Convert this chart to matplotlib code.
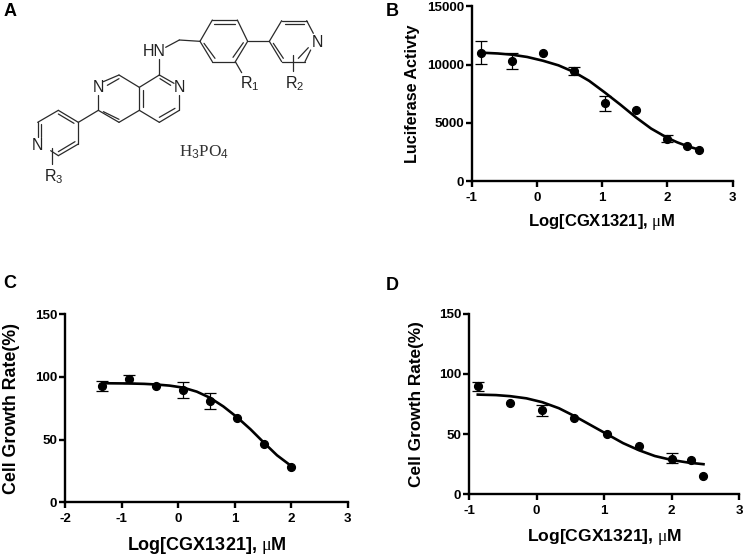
import matplotlib
matplotlib.use("Agg")
import matplotlib.pyplot as plt

plt.rcParams['font.family'] = ['Liberation Sans', 'DejaVu Sans']
plt.rcParams['mathtext.fontset'] = 'custom'
plt.rcParams['mathtext.rm'] = 'Liberation Sans'
plt.rcParams['mathtext.it'] = 'Liberation Serif'
plt.rcParams['mathtext.bf'] = 'Liberation Serif'
plt.rcParams['axes.unicode_minus'] = False

W, H = 744, 555

# panel B
b_x = [-0.86, -0.39, 0.09, 0.57, 1.04, 1.52, 2.0, 2.30, 2.48]
b_y = [11020, 10330, 11020, 9470, 6670, 6070, 3640, 3000, 2690]
b_lo = [10020, 9620, 11020, 9100, 6040, 6070, 3320, 3000, 2690]
b_hi = [12000, 11020, 11020, 9820, 7300, 6070, 3980, 3000, 2690]
b_cx = [-0.86, -0.6, -0.39, -0.15, 0.09, 0.33, 0.57, 0.8, 1.04, 1.28, 1.52, 1.75, 2.0, 2.15, 2.30, 2.48]
b_cy = [11020, 10950, 10850, 10650, 10330, 9930, 9350, 8600, 7600, 6550, 5450, 4500, 3700, 3320, 3000, 2700]

# panel C
c_x = [-1.34, -0.86, -0.39, 0.09, 0.56, 1.04, 1.52, 2.0]
c_y = [92.8, 98.1, 92.8, 89.4, 81.1, 67, 46.8, 28.5]
c_lo = [88.8, 94.9, 92.8, 83, 74.2, 67, 46.8, 28.5]
c_hi = [97.1, 101.9, 92.8, 96, 87.5, 67, 46.8, 28.5]
c_cx = [-1.34, -1.1, -0.86, -0.6, -0.39, -0.15, 0.09, 0.33, 0.56, 0.8, 1.04, 1.28, 1.52, 1.75, 2.0]
c_cy = [95, 94.9, 94.8, 94.5, 94, 93.1, 91.5, 88.3, 83.5, 76.5, 68, 58.3, 47.5, 37.5, 29]

# panel D
d_x = [-0.87, -0.39, 0.085, 0.56, 1.04, 1.52, 2.0, 2.29, 2.47]
d_y = [89.7, 76.1, 70, 63, 49.8, 40.4, 29.6, 28.2, 14.9]
d_lo = [85.8, 76.1, 65, 63, 49.8, 40.4, 26, 28.2, 14.9]
d_hi = [93.5, 76.1, 74.2, 63, 49.8, 40.4, 34.3, 28.2, 14.9]
d_cx = [-0.87, -0.6, -0.39, -0.15, 0.085, 0.33, 0.56, 0.8, 1.04, 1.28, 1.52, 1.75, 2.0, 2.25, 2.47]
d_cy = [82.8, 82.4, 81.5, 79.7, 76.5, 71.5, 65, 57.5, 50, 42.5, 36.5, 31.8, 28.5, 26.3, 25]

xlabel = 'Log[CGX1321], $\\mu$M'
y_b = 'Luciferase Activty'
y_cd = 'Cell Growth Rate(%)'

# molecule segments, in 3x pixels of the picture
bonds = [
    (310, 245, 357, 225), (322, 256, 357, 236), (357, 225, 418, 262), (418, 262, 418, 331),
    (428, 270, 428, 322), (418, 331, 357, 367), (310, 335, 357, 358), (295, 331, 357, 367),
    (295, 331, 295, 285), (418, 262, 478, 225), (478, 225, 522, 250), (480, 236, 512, 256),
    (538, 285, 538, 331), (538, 331, 478, 367), (478, 352, 525, 325), (478, 367, 418, 331),
    (478, 225, 478, 178), (497, 142, 538, 120), (538, 120, 600, 124),
    (600, 124, 637, 60), (637, 60, 712, 60), (712, 60, 743, 124), (743, 124, 706, 185),
    (706, 185, 637, 185), (637, 185, 600, 124), (643, 71, 704, 71), (730, 128, 699, 172),
    (612, 130, 645, 175), (706, 185, 725, 218), (743, 124, 808, 124),
    (808, 124, 845, 62), (845, 62, 920, 62), (920, 62, 940, 100), (932, 150, 915, 185),
    (915, 185, 845, 185), (845, 185, 808, 124), (855, 73, 913, 73), (820, 130, 850, 175),
    (895, 175, 925, 143), (878, 165, 878, 213),
    (295, 331, 235, 367), (235, 367, 175, 331), (175, 331, 113, 367), (113, 367, 113, 412),
    (235, 367, 235, 432), (235, 432, 175, 467), (175, 467, 152, 452), (175, 342, 222, 370),
    (124, 372, 124, 410), (175, 455, 225, 425), (155, 445, 155, 492),
]
atoms = [
    ('N', 295, 263), ('N', 538, 263), ('HN', 462, 156), ('N', 952, 128), ('N', 113, 437),
    ('R$_{1}$', 748, 250), ('R$_{2}$', 884, 250), ('R$_{3}$', 160, 531),
]

fig = plt.figure(figsize=(W / 100, H / 100), dpi=100)


def make_axes(x0, x1, y_top, y_bot):
    return fig.add_axes([x0 / W, 1 - y_bot / H, (x1 - x0) / W, (y_bot - y_top) / H])


def panel(ax, x, y, lo, hi, cx, cy, xt, yt, ylab, xsize, ysize, xlab_y, ylab_x):
    ax.plot(cx, cy, color='black', lw=1.9, zorder=3)
    ax.plot(x, y, 'o', color='black', ms=5.6, zorder=4)
    # only points that have a spread get a bar
    for a, b, c in zip(x, lo, hi):
        if c > b:
            ax.errorbar([a], [(b + c) / 2], yerr=[(c - b) / 2], fmt='none', ecolor='black',
                        elinewidth=0.9, capsize=4.2, capthick=0.9, zorder=4)
    ax.set_xlim(xt[0], xt[-1])
    ax.set_ylim(yt[0], yt[-1])
    ax.set_xticks(xt)
    ax.set_yticks(yt)
    ax.spines['top'].set_visible(False)
    ax.spines['right'].set_visible(False)
    ax.spines['left'].set_linewidth(1.7)
    ax.spines['bottom'].set_linewidth(1.7)
    ax.tick_params(width=1.7, length=4, labelsize=9.6)
    ax.tick_params(axis='x', pad=4)
    ax.tick_params(axis='y', pad=1.5)
    for t in ax.get_xticklabels() + ax.get_yticklabels():
        t.set_fontweight('bold')
    ax.set_xlabel(xlabel, fontsize=xsize, fontweight='bold', va='center')
    ax.set_ylabel(ylab, fontsize=ysize, fontweight='bold', va='center')
    box = ax.get_position()
    ax.xaxis.set_label_coords(0.5, ((1 - xlab_y / H) - box.y0) / box.height)
    ax.yaxis.set_label_coords((ylab_x / W - box.x0) / box.width, 0.5)


ax_b = make_axes(471.7, 732.7, 6.3, 181)
panel(ax_b, b_x, b_y, b_lo, b_hi, b_cx, b_cy, [-1, 0, 1, 2, 3], [0, 5000, 10000, 15000],
      y_b, 12, 11.6, 222, 413)

ax_c = make_axes(65, 347.7, 314.3, 502.3)
panel(ax_c, c_x, c_y, c_lo, c_hi, c_cx, c_cy, [-2, -1, 0, 1, 2, 3], [0, 50, 100, 150],
      y_cd, 13, 12.8, 546, 12)

ax_d = make_axes(469, 739.3, 313.7, 494.3)
panel(ax_d, d_x, d_y, d_lo, d_hi, d_cx, d_cy, [-1, 0, 1, 2, 3], [0, 50, 100, 150],
      y_cd, 12.6, 12.4, 537, 417)

# overlay for the structure and the panel letters
top = fig.add_axes([0, 0, 1, 1], facecolor='none')
top.set_xlim(0, W * 3)
top.set_ylim(H * 3, 0)
top.axis('off')

for x0, y0, x1, y1 in bonds:
    top.plot([x0, x1], [y0, y1], color='#2a2a2a', lw=0.9, solid_capstyle='round')
for s, x, y in atoms:
    top.text(x, y, s, ha='center', va='center', fontsize=11.5, color='#222222')
top.text(613, 457, 'H$_{\\mathit{3}}$PO$_{\\mathit{4}}$', ha='center', va='center', fontsize=12.3,
         family='Liberation Serif', color='#333333')

for s, x, y in [('A', 30, 36), ('B', 36, 36), ('C', 30, 852), ('D', 37, 855)]:
    px = x if s in 'AC' else x + 1140
    top.text(px, y, s, ha='center', va='center', fontsize=13, fontweight='bold', color='black')

fig.savefig('out.png', dpi=100)
